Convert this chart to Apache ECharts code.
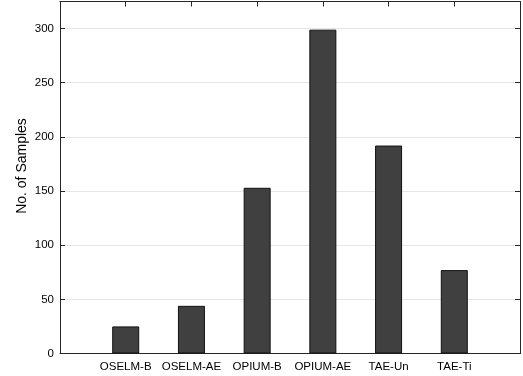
<!DOCTYPE html>
<html>
<head>
<meta charset="utf-8">
<script src="https://cdn.jsdelivr.net/npm/echarts@6/dist/echarts.min.js"></script>
<style>
  html, body { margin: 0; padding: 0; background: #fff; }
  #chart { width: 523px; height: 376px; }
</style>
</head>
<body>
<div id="chart"></div>
<script>
// Sample counts per method
const categories = ['OSELM-B', 'OSELM-AE', 'OPIUM-B', 'OPIUM-AE', 'TAE-Un', 'TAE-Ti'];
const samples = [25, 44, 153, 299, 192, 77];
const yTicks = [0, 50, 100, 150, 200, 250, 300];

const font = '"Liberation Sans", Arial, Helvetica, sans-serif';
const axisColor = '#262626';

// Bars sit at integer positions 1..N on a value axis spanning 0..N+1
const barData = samples.map((v, i) => [i + 1, v]);

const lineStyle = { show: true, onZero: false, lineStyle: { color: axisColor, width: 1 } };
const tickStyle = { show: true, inside: true, length: 5, lineStyle: { color: axisColor } };

const chart = echarts.init(document.getElementById('chart'));
chart.setOption({
  animation: false,
  backgroundColor: '#ffffff',
  grid: { left: 60, right: 1.5, top: 1.5, bottom: 22.5, containLabel: false },
  xAxis: [
    {
      type: 'value', position: 'bottom', min: 0, max: categories.length + 1, interval: 1,
      axisLine: lineStyle,
      axisTick: tickStyle,
      splitLine: { show: false },
      axisLabel: {
        color: '#000', fontFamily: font, fontSize: 11.5, margin: 7,
        formatter: v => (v >= 1 && v <= categories.length) ? categories[v - 1] : ''
      }
    },
    {
      type: 'value', position: 'top', min: 0, max: categories.length + 1, interval: 1,
      axisLine: lineStyle,
      axisTick: tickStyle,
      axisLabel: { show: false },
      splitLine: { show: false }
    }
  ],
  yAxis: [
    {
      type: 'value', position: 'left', min: 0, max: 325, interval: 50,
      axisLine: lineStyle,
      axisTick: tickStyle,
      splitLine: { show: true, lineStyle: { color: '#e6e6e6', width: 1 } },
      axisLabel: {
        color: '#000', fontFamily: font, fontSize: 11.5, margin: 6,
        formatter: v => yTicks.includes(v) ? String(v) : ''
      }
    },
    {
      type: 'value', position: 'right', min: 0, max: 325, interval: 50,
      axisLine: lineStyle,
      axisTick: tickStyle,
      axisLabel: { show: false },
      splitLine: { show: false }
    }
  ],
  graphic: [
    {
      type: 'text', x: 22, y: 166, rotation: Math.PI / 2,
      style: {
        text: 'No. of Samples', fill: '#000', font: '14px ' + font,
        textAlign: 'center', textVerticalAlign: 'middle'
      }
    }
  ],
  series: [
    {
      type: 'bar', xAxisIndex: 0, yAxisIndex: 0,
      data: barData, barWidth: 27,
      itemStyle: { color: '#404040', borderColor: '#111111', borderWidth: 1 }
    }
  ]
});
</script>
</body>
</html>
